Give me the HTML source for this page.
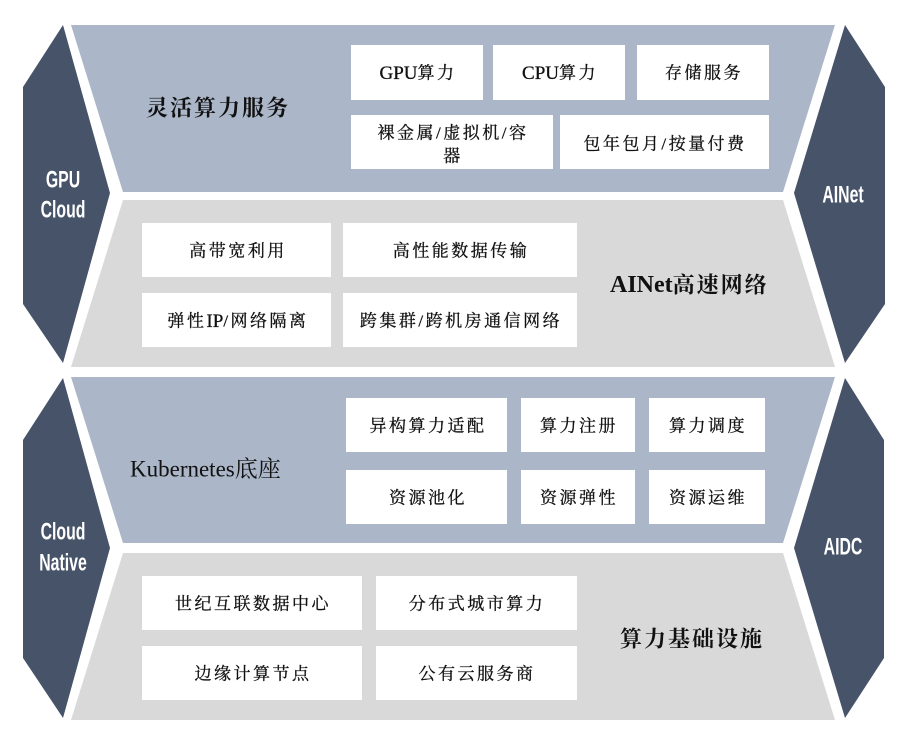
<!DOCTYPE html>
<html><head><meta charset="utf-8"><style>
html,body{margin:0;padding:0;background:#fff;}
svg{display:block;}
.b{fill:#fff;}
.t{font-family:"Liberation Serif","Noto Serif CJK SC",serif;font-size:17px;letter-spacing:2.5px;fill:#111;stroke:#111;stroke-width:0.3;text-anchor:middle;dominant-baseline:central;}
.h{font-family:"Liberation Serif","Noto Serif CJK SC",serif;font-size:22px;letter-spacing:2px;font-weight:bold;fill:#111;dominant-baseline:central;}
.l{letter-spacing:0;font-size:19px;}
.hl{letter-spacing:0;font-size:24px;}
.w{font-family:"Liberation Sans",sans-serif;font-size:22px;font-weight:bold;fill:#fff;text-anchor:middle;dominant-baseline:central;}
</style></head><body>
<svg width="908" height="734" viewBox="0 0 908 734" xmlns="http://www.w3.org/2000/svg">
<polygon points="71,25 835,25 783,192 123,192" fill="#abb7c9"/>
<polygon points="123,200 783,200 835,367 71,367" fill="#d9d9d9"/>
<polygon points="71,377 835,377 783,543 123,543" fill="#abb7c9"/>
<polygon points="123,553 783,553 835,720 71,720" fill="#d9d9d9"/>
<polygon points="63,25 110,193 63,363 23,304 23,87" fill="#465368"/>
<polygon points="63,378 110,548 63,718 23,658 23,440" fill="#465368"/>
<polygon points="845,25 885,87 885,304 845,363 794,193" fill="#465368"/>
<polygon points="845,378 884,440 884,658 845,718 794,548" fill="#465368"/>
<g transform="translate(63,180) scale(0.72,1.1)"><text class="w" x="0" y="0">GPU</text></g>
<g transform="translate(63,210) scale(0.72,1.1)"><text class="w" x="0" y="0">Cloud</text></g>
<g transform="translate(843,195) scale(0.72,1.1)"><text class="w" x="0" y="0">AINet</text></g>
<g transform="translate(63,532) scale(0.72,1.1)"><text class="w" x="0" y="0">Cloud</text></g>
<g transform="translate(63,563) scale(0.72,1.1)"><text class="w" x="0" y="0">Native</text></g>
<g transform="translate(843,547) scale(0.72,1.1)"><text class="w" x="0" y="0">AIDC</text></g>
<text class="h" x="146" y="108">灵活算力服务</text>
<rect class="b" x="351" y="45" width="132" height="55"/><text class="t" x="418" y="73"><tspan class="l">GPU</tspan>算力</text>
<rect class="b" x="493" y="45" width="132" height="55"/><text class="t" x="560" y="73"><tspan class="l">CPU</tspan>算力</text>
<rect class="b" x="637" y="45" width="132" height="55"/><text class="t" x="704" y="73">存储服务</text>
<rect class="b" x="351" y="115" width="202" height="54"/><text class="t" x="453" y="133">裸金属/虚拟机/容</text><text class="t" x="453" y="156">器</text>
<rect class="b" x="560" y="115" width="209" height="54"/><text class="t" x="665" y="144">包年包月/按量付费</text>
<rect class="b" x="142" y="223" width="189" height="54"/><text class="t" x="238" y="251">高带宽利用</text>
<rect class="b" x="343" y="223" width="234" height="54"/><text class="t" x="461" y="251">高性能数据传输</text>
<rect class="b" x="142" y="293" width="189" height="54"/><text class="t" x="238" y="321">弹性<tspan class="l">IP</tspan>/网络隔离</text>
<rect class="b" x="343" y="293" width="234" height="54"/><text class="t" x="461" y="321">跨集群/跨机房通信网络</text>
<text class="h" x="610" y="285"><tspan class="hl">AINet</tspan>高速网络</text>
<text class="h" x="130" y="469" style="font-weight:normal;letter-spacing:0;font-size:23px">Kubernetes底座</text>
<rect class="b" x="346" y="398" width="161" height="54"/><text class="t" x="428" y="426">异构算力适配</text>
<rect class="b" x="521" y="398" width="114" height="54"/><text class="t" x="579" y="426">算力注册</text>
<rect class="b" x="649" y="398" width="116" height="54"/><text class="t" x="708" y="426">算力调度</text>
<rect class="b" x="346" y="470" width="161" height="54"/><text class="t" x="428" y="498">资源池化</text>
<rect class="b" x="521" y="470" width="114" height="54"/><text class="t" x="579" y="498">资源弹性</text>
<rect class="b" x="649" y="470" width="116" height="54"/><text class="t" x="708" y="498">资源运维</text>
<rect class="b" x="142" y="576" width="220" height="54"/><text class="t" x="253" y="604">世纪互联数据中心</text>
<rect class="b" x="376" y="576" width="201" height="54"/><text class="t" x="477" y="604">分布式城市算力</text>
<rect class="b" x="142" y="646" width="220" height="54"/><text class="t" x="253" y="674">边缘计算节点</text>
<rect class="b" x="376" y="646" width="201" height="54"/><text class="t" x="477" y="674">公有云服务商</text>
<text class="h" x="620" y="639">算力基础设施</text>
</svg>
</body></html>
